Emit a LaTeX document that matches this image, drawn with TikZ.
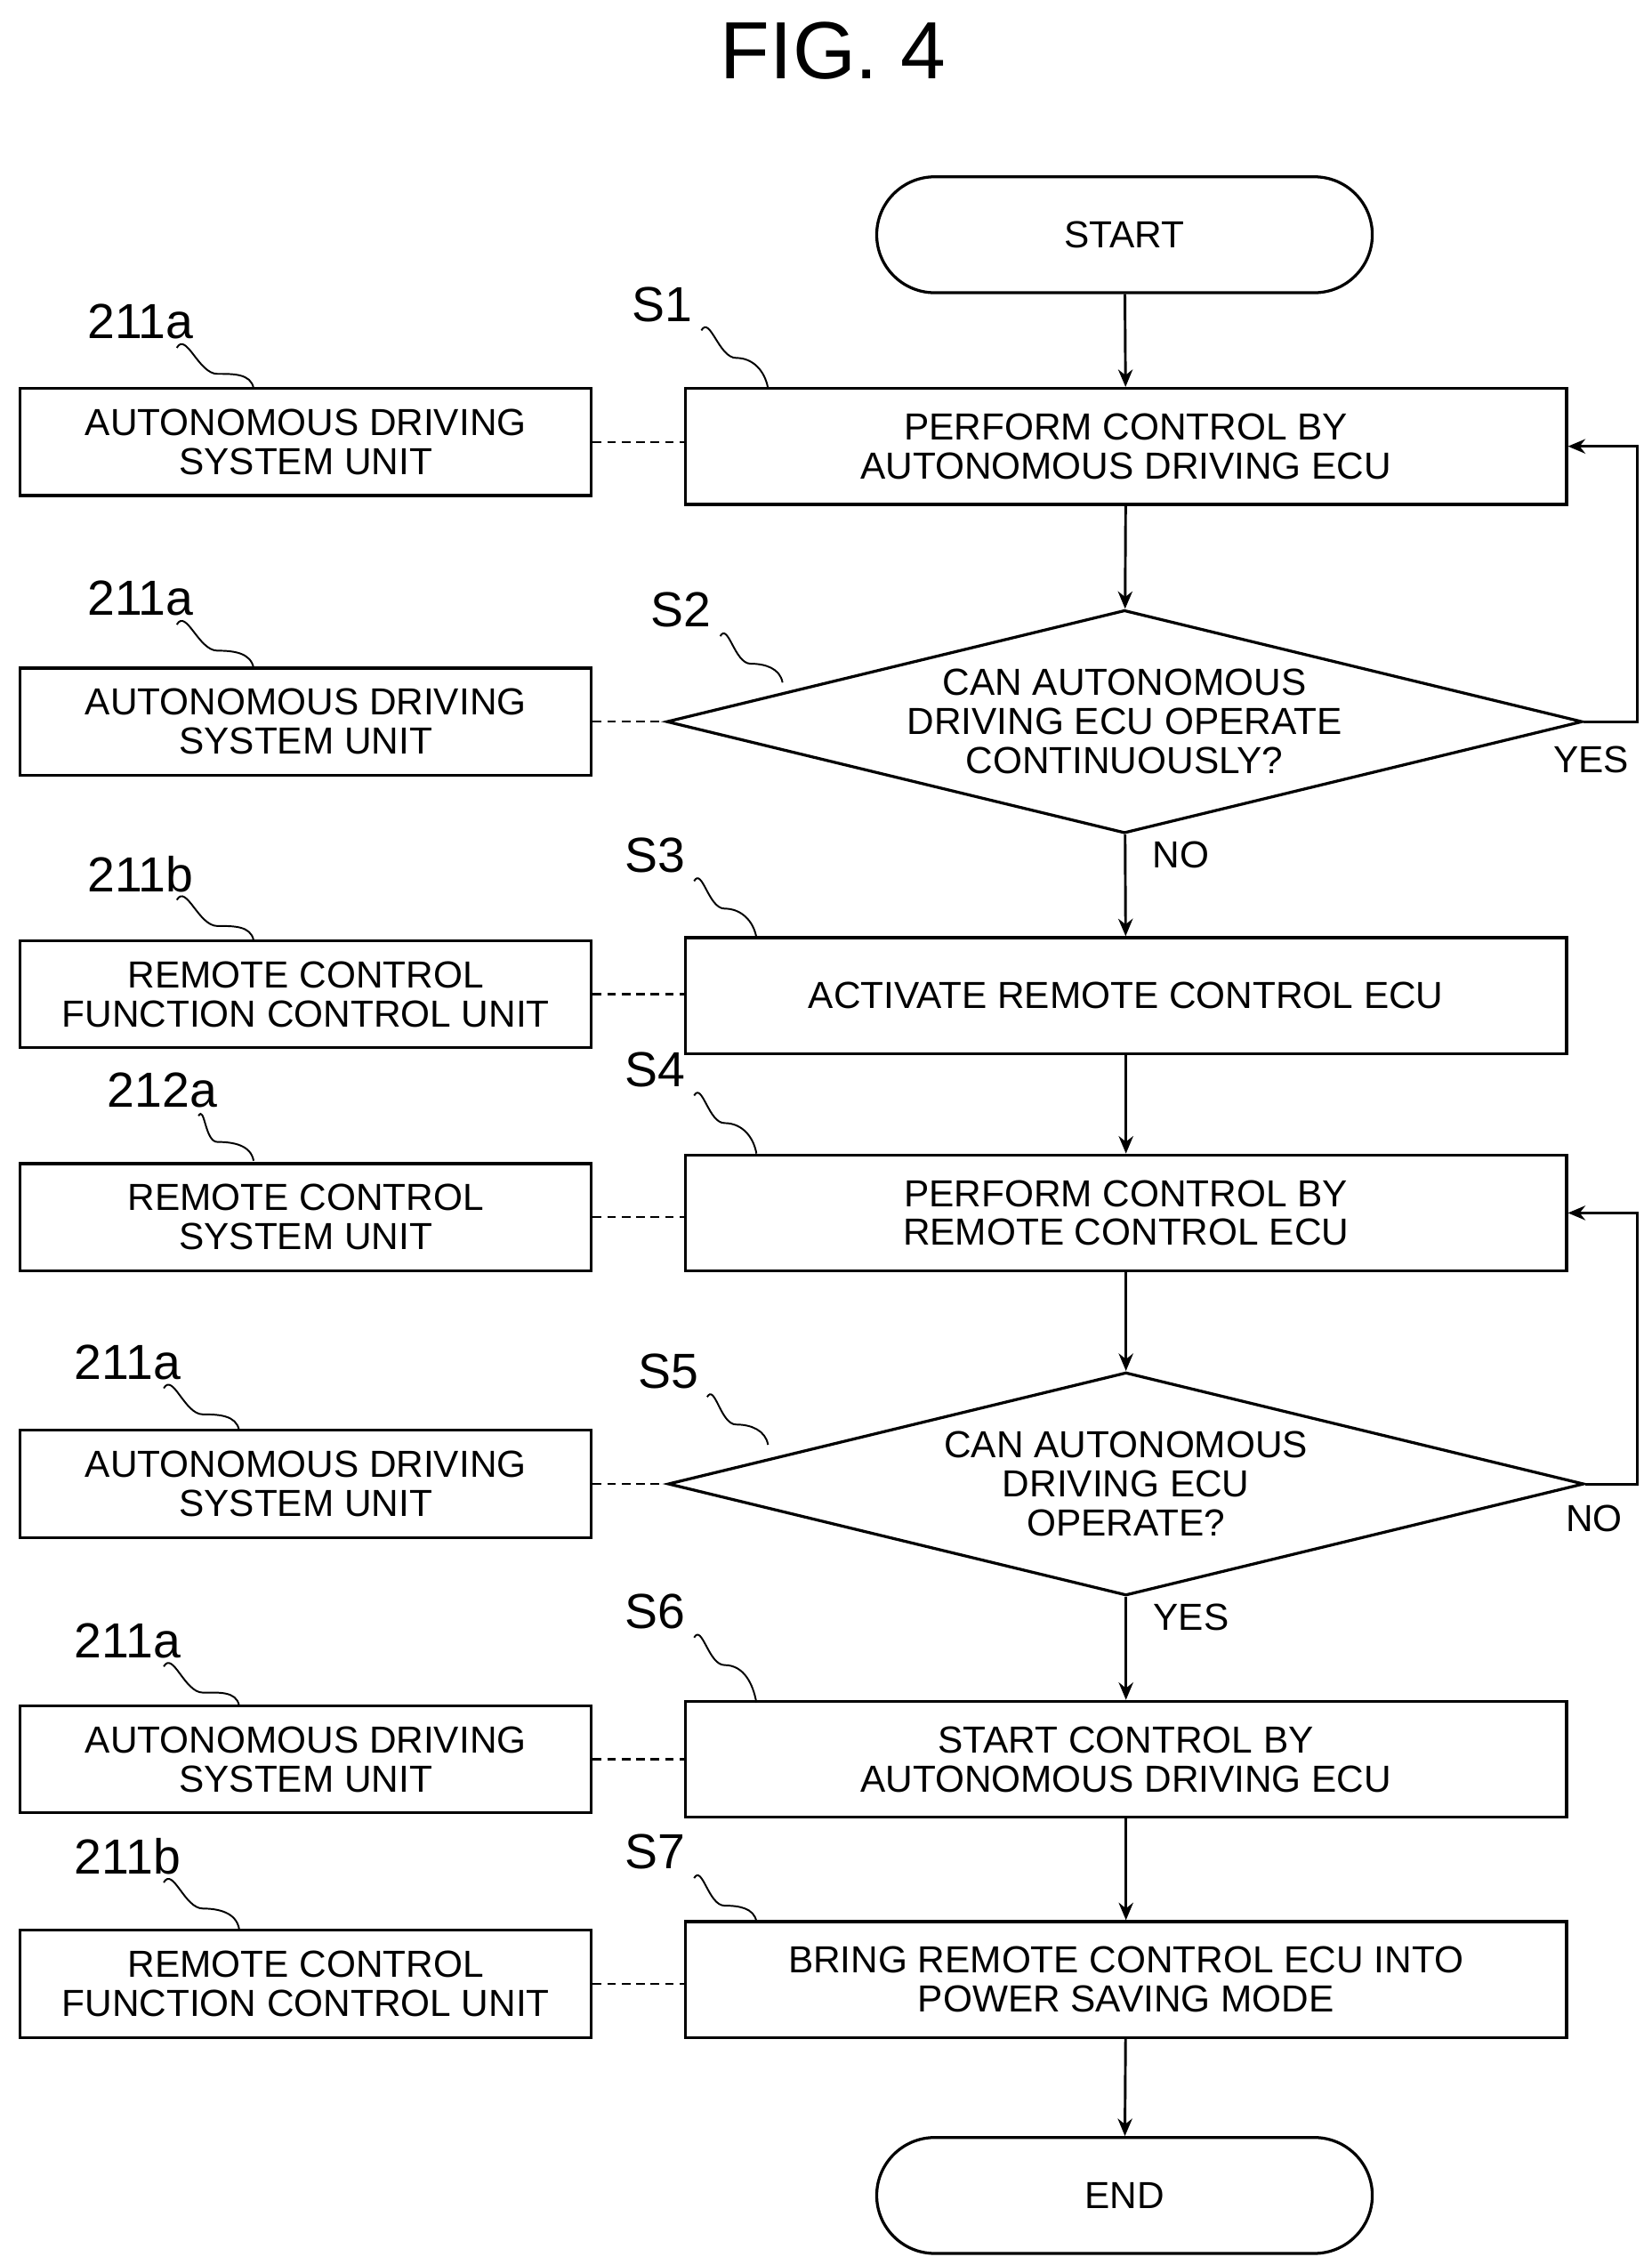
\documentclass[tikz,border=0pt]{standalone}
\usepackage{fontspec}
\setmainfont{Liberation Sans}
\usetikzlibrary{shapes.geometric,arrows.meta}
\begin{document}
\begin{tikzpicture}[x=0.5pt,y=-0.5pt,
  every node/.style={font=\fontsize{13}{13.5}\selectfont},
  box/.style={draw,line width=1pt,minimum width=304pt,minimum height=40pt,align=center,inner sep=0pt},
  lbox/.style={draw,line width=1pt,minimum width=197pt,minimum height=37pt,align=center,inner sep=0pt},
  dia/.style={draw,line width=1pt,diamond,aspect=4.1,minimum width=316pt,minimum height=77pt,align=center,inner sep=0pt},
  term/.style={draw,line width=1pt,rounded corners=20pt,minimum width=171pt,minimum height=40pt},
  arr/.style={-{Stealth[length=6pt,width=5pt]},line width=0.9pt},
  dashc/.style={densely dashed,line width=0.7pt},
  lead/.style={line width=0.6pt},
  lab/.style={font=\fontsize{17}{17}\selectfont}]
\path[use as bounding box] (0,0) rectangle (1140,1563);
\node[font=\fontsize{28}{28}\selectfont] (title) at (575,35) {FIG. 4};
\node[term] (start) at (776,162) {START};
\node[box] (s1) at (777,308) {PERFORM CONTROL BY\\AUTONOMOUS DRIVING ECU};
\node[dia] (s2) at (776,498) {CAN AUTONOMOUS\\DRIVING ECU OPERATE\\CONTINUOUSLY?};
\node[box] (s3) at (777,687) {ACTIVATE REMOTE CONTROL ECU};
\node[box] (s4) at (777,837) {PERFORM CONTROL BY\\REMOTE CONTROL ECU};
\node[dia] (s5) at (777,1024) {CAN AUTONOMOUS\\DRIVING ECU\\OPERATE?};
\node[box] (s6) at (777,1214) {START CONTROL BY\\AUTONOMOUS DRIVING ECU};
\node[box] (s7) at (777,1366) {BRING REMOTE CONTROL ECU INTO\\POWER SAVING MODE};
\node[term] (end) at (776,1515) {END};
\node[lbox] (l1) at (211,305) {AUTONOMOUS DRIVING\\SYSTEM UNIT};
\node[lbox] (l2) at (211,498) {AUTONOMOUS DRIVING\\SYSTEM UNIT};
\node[lbox] (l3) at (211,686) {REMOTE CONTROL\\FUNCTION CONTROL UNIT};
\node[lbox] (l4) at (211,840) {REMOTE CONTROL\\SYSTEM UNIT};
\node[lbox] (l5) at (211,1024) {AUTONOMOUS DRIVING\\SYSTEM UNIT};
\node[lbox] (l6) at (211,1214) {AUTONOMOUS DRIVING\\SYSTEM UNIT};
\node[lbox] (l7) at (211,1369) {REMOTE CONTROL\\FUNCTION CONTROL UNIT};
\foreach \a/\b in {l1/s1,l3/s3,l4/s4,l6/s6,l7/s7}{\draw[dashc] (\a.east) -- (\b.west|-\a.east);}
\draw[dashc] (l2.east) -- (s2.west);
\draw[dashc] (l5.east) -- (s5.west);
\draw[arr] (start) -- (s1);
\draw[arr] (s1) -- (s2);
\draw[arr] (s2) -- (s3);
\draw[arr] (s3) -- (s4);
\draw[arr] (s4) -- (s5);
\draw[arr] (s5) -- (s6);
\draw[arr] (s6) -- (s7);
\draw[arr] (s7) -- (end);
\coordinate (c1) at (1130,498);
\coordinate (c2) at (1130,1024);
\draw[arr] (s2.east) -- (c1) -- (c1|-s1.east) -- (s1.east);
\draw[arr] (s5.east) -- (c2) -- (c2|-s4.east) -- (s4.east);
\node (yes1) at (1098,524) {YES};
\node (no1) at (815,590) {NO};
\node (no2) at (1100,1048) {NO};
\node (yes2) at (822,1116) {YES};
\foreach \n/\t/\x/\y/\bx/\by in {a/211a/97/222/175/268, b/211a/97/413/175/461, c/211b/97/603/175/649, d/212a/112/752/175/801, e/211a/88/940/165/987, f/211a/88/1132/165/1177, g/211b/88/1281/165/1331}{
  \node[lab] (r\n) at (\x,\y) {\t};
  \draw[lead] (\x+25,\y+18) to[out=60,in=180] (\bx-25,\y+36) to[out=0,in=100] (\bx,\by);
}
\foreach \n/\t/\x/\y/\bx/\by in {1/S1/457/210/530/268, 2/S2/470/421/540/471, 3/S3/452/590/522/647, 4/S4/452/738/522/796, 5/S5/461/946/530/997, 6/S6/452/1112/522/1175, 7/S7/452/1278/522/1326}{
  \node[lab] (t\n) at (\x,\y) {\t};
  \draw[lead] (\x+27,\y+18) to[out=60,in=180] (\bx-22,\y+37) to[out=0,in=100] (\bx,\by);
}
\end{tikzpicture}
\end{document}
